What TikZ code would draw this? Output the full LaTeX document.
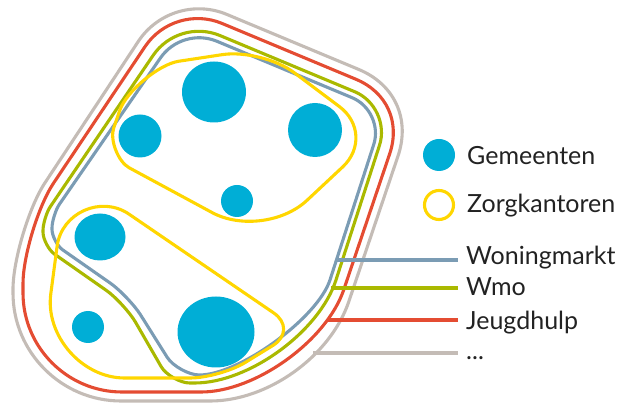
\documentclass[tikz,border=0pt]{standalone}
\usepackage{fontspec}
\setmainfont{Lato}
\usetikzlibrary{calc}
\definecolor{gemblue}{RGB}{0,174,214}
\definecolor{zorgyellow}{RGB}{255,214,0}
\definecolor{wmogreen}{RGB}{170,185,0}
\definecolor{woonblue}{RGB}{123,156,180}
\definecolor{jeugdred}{RGB}{228,76,50}
\definecolor{restgray}{RGB}{196,188,182}
\definecolor{txt}{RGB}{34,34,34}
\tikzset{rc/.style n args={5}{insert path={-- ($(#2)!#4pt!(#1)$) .. controls ($(#2)!#5*#4pt!(#1)$) and ($(#2)!#5*#4pt!(#3)$) .. ($(#2)!#4pt!(#3)$)}}}
\begin{document}
\begin{tikzpicture}[x=1pt,y=-1pt,
  contour/.style={line width=3.1pt, line join=round},
  gem/.style={fill=gemblue, draw=none},
  lbl/.style={anchor=base west, inner sep=0pt, text=txt, font=\fontsize{25}{28}\selectfont},
  lead/.style={line width=3.1pt}]
\useasboundingbox (0,0) rectangle (619,403);
% ---- gray (outer)
\coordinate (g1) at (171.4,-8.7); \coordinate (g2) at (418.8,94.5);
\coordinate (g3) at (315.2,401); \coordinate (g4) at (13,401); \coordinate (g5) at (13,231.2);
\draw[contour, restgray] ($(g1)!0.5!(g2)$) [rc={g1}{g2}{g3}{65}{0.4}] [rc={g2}{g3}{g4}{105}{0.45}]
  [rc={g3}{g4}{g5}{108}{0.45}] [rc={g4}{g5}{g1}{58}{0.5}] [rc={g5}{g1}{g2}{60}{0.42}] -- cycle;
% ---- red
\coordinate (r1) at (174,3.4); \coordinate (r2) at (407.6,100.8);
\coordinate (r3) at (309.2,392); \coordinate (r4) at (23,392); \coordinate (r5) at (23,228.7);
\draw[contour, jeugdred] ($(r1)!0.5!(r2)$) [rc={r1}{r2}{r3}{56}{0.4}] [rc={r2}{r3}{r4}{108}{0.5}]
  [rc={r3}{r4}{r5}{99}{0.45}] [rc={r4}{r5}{r1}{55}{0.5}] [rc={r5}{r1}{r2}{52}{0.42}] -- cycle;
% ---- green (Wmo)
\coordinate (n1) at (178.4,18.2); \coordinate (n2) at (391.8,107.2);
\coordinate (n3) at (302.7,383); \coordinate (n4) at (170.6,383); \coordinate (n5) at (124.5,303.1);
\coordinate (n6) at (43,246.1); \coordinate (n7) at (43,217.4);
\draw[contour, wmogreen] ($(n1)!0.5!(n2)$) [rc={n1}{n2}{n3}{40}{0.45}] [rc={n2}{n3}{n4}{108}{0.5}]
  [rc={n3}{n4}{n5}{19}{0.5}] [rc={n4}{n5}{n6}{22}{0.5}] [rc={n5}{n6}{n7}{14}{0.5}]
  [rc={n6}{n7}{n1}{13}{0.5}] [rc={n7}{n1}{n2}{45}{0.42}] -- cycle;
% ---- blue-gray (Woningmarkt)
\coordinate (b1) at (182,26.7); \coordinate (b2) at (384.5,111.2);
\coordinate (b3) at (299.3,375); \coordinate (b4) at (178.3,375); \coordinate (b5) at (128.7,296);
\coordinate (b6) at (52,242.4); \coordinate (b7) at (52,215);
\draw[contour, woonblue] ($(b1)!0.5!(b2)$) [rc={b1}{b2}{b3}{35}{0.45}] [rc={b2}{b3}{b4}{100}{0.6}]
  [rc={b3}{b4}{b5}{21}{0.5}] [rc={b4}{b5}{b6}{22}{0.5}] [rc={b5}{b6}{b7}{13}{0.5}]
  [rc={b6}{b7}{b1}{13}{0.5}] [rc={b7}{b1}{b2}{38}{0.42}] -- cycle;
% ---- yellow top
\coordinate (ya) at (134.3,68); \coordinate (yb) at (262.1,48.6); \coordinate (yc) at (377,134.8);
\coordinate (yd) at (264,240.6); \coordinate (ye) at (104.6,154.5);
\draw[contour, zorgyellow] ($(ya)!0.5!(yb)$) [rc={ya}{yb}{yc}{40}{0.45}] [rc={yb}{yc}{yd}{47}{0.45}]
  [rc={yc}{yd}{ye}{59}{0.45}] [rc={yd}{ye}{ya}{28}{0.55}] [rc={ye}{ya}{yb}{45}{0.55}] -- cycle;
% ---- yellow bottom
\coordinate (za) at (67,171.8); \coordinate (zb) at (298.4,329.8);
\coordinate (zc) at (220,378); \coordinate (zd) at (39.6,378);
\draw[contour, zorgyellow] ($(za)!0.5!(zb)$) [rc={za}{zb}{zc}{30}{0.45}] [rc={zb}{zc}{zd}{30}{0.45}]
  [rc={zc}{zd}{za}{85}{0.5}] [rc={zd}{za}{zb}{75}{0.55}] -- cycle;
% ---- gemeenten
\fill[gem] (214,92) ellipse [x radius=32, y radius=30.5];
\fill[gem] (140,136) circle [radius=21.5];
\fill[gem] (315,130) circle [radius=27];
\fill[gem] (237,201) circle [radius=16];
\fill[gem] (100,237) ellipse [x radius=25.5, y radius=23.5];
\fill[gem] (88,327) circle [radius=16];
\fill[gem] (216,332) ellipse [x radius=38.5, y radius=35.5];
% ---- legend
\node[circle, fill=gemblue, minimum size=32pt, inner sep=0pt] (lgem) at (439,155) {};
\node[circle, draw=zorgyellow, line width=3.1pt, minimum size=29pt, inner sep=0pt] (lzorg) at (439,205) {};
\node[lbl] (tgem) at (467,165) {Gemeenten};
\node[lbl] (tzorg) at (467,213) {Zorgkantoren};
% ---- leader labels
\node[lbl] (twoon) at (466,265) {Woningmarkt};
\node[lbl] (twmo) at (466,296) {Wmo};
\node[lbl] (tjeugd) at (466,330) {Jeugdhulp};
\node[lbl] (trest) at (466,360) {...};
\coordinate (cwoon) at (336,260);
\coordinate (cwmo) at (331,288);
\coordinate (cjeugd) at (327,320);
\coordinate (crest) at (313,353);
\draw[lead, woonblue] (cwoon) -- ([xshift=-8pt]twoon.west |- cwoon);
\draw[lead, wmogreen] (cwmo) -- ([xshift=-8pt]twmo.west |- cwmo);
\draw[lead, jeugdred] (cjeugd) -- ([xshift=-8pt]tjeugd.west |- cjeugd);
\draw[lead, restgray] (crest) -- ([xshift=-8pt]trest.west |- crest);
\end{tikzpicture}
\end{document}
